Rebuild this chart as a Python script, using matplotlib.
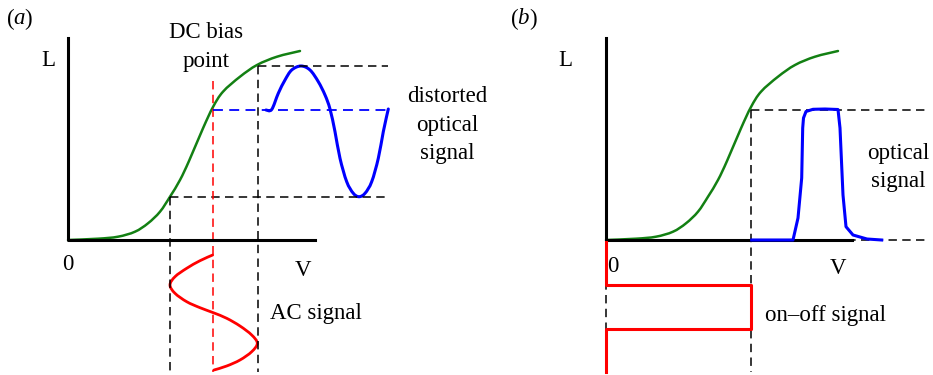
import numpy as np
import matplotlib.pyplot as plt
from matplotlib.path import Path
from matplotlib.patches import PathPatch

plt.rcParams.update({
    "font.family": "serif",
    "font.serif": ["Liberation Serif", "DejaVu Serif"],
    "font.size": 16.5,
})

# everything in pixel units (x right, y down)
# L-V transfer curve, x measured from the origin of each panel
curve_dx = [0, 30, 50, 67, 80, 92, 102, 112, 121, 135, 145, 155, 172, 189, 209, 232]
curve_y = [240, 238.7, 236.7, 231.7, 223.3, 211.7, 196.7, 180, 161, 128.3, 107, 91.7,
           76.7, 65, 56.7, 51]

# panel (a): AC signal (red) and distorted optical output (blue)
ac_x = [212.7, 200, 186.7, 175, 170, 175, 186.7, 200, 213.3, 226.7, 240, 251.7, 257.3,
        251.7, 240, 226.7, 214]
ac_y = [255, 260.7, 268.3, 276.7, 285, 293.3, 301.7, 307.7, 312.7, 318.3, 326, 335,
        343.3, 351.7, 360, 366, 370]
dist_x = [266, 271.7, 278.3, 285, 291.7, 301, 310, 318.3, 325, 330, 335, 340, 346.7,
          353.3, 359, 365, 371.7, 378.3, 383.3, 388.3]
dist_y = [110, 109.5, 93.3, 80, 70, 66, 70, 81.7, 95, 109, 131.7, 158.3, 181.7,
          193.3, 196.7, 193.3, 181.7, 158.3, 131.7, 109]

# panel (b): on-off drive (red) and optical pulse (blue)
onoff_x = [606, 606, 751, 751, 606, 606]
onoff_y = [242, 285, 285, 329, 329, 372]
pulse_x = [751.7, 793, 798, 801.7, 802.7, 803.5, 806, 813, 825, 838, 840, 843, 846,
           853, 867, 881.7]
pulse_y = [240, 240, 218, 178, 128, 118, 111.5, 109.3, 109, 109.5, 128, 195, 226.7,
           235, 239, 240]

origin_a, origin_b = 68, 606
axis_y, axis_top = 240, 38

GREEN = "#138013"
BLUE = "#0000ff"
RED = "#ff0000"


def smooth(ax, xs, ys, **kw):
    # Catmull-Rom through the points, drawn as cubic Bezier segments
    p = np.column_stack([xs, ys]).astype(float)
    ext = np.vstack([p[0], p, p[-1]])
    verts, codes = [p[0]], [Path.MOVETO]
    for i in range(1, len(ext) - 2):
        p0, p1, p2, p3 = ext[i - 1], ext[i], ext[i + 1], ext[i + 2]
        verts += [p1 + (p2 - p0) / 6, p2 - (p3 - p1) / 6, p2]
        codes += [Path.CURVE4] * 3
    ax.add_patch(PathPatch(Path(verts, codes), fill=False, capstyle="round",
                           joinstyle="round", **kw))


def dash(ax, xs, ys, color="black", lw=1.1):
    ax.plot(xs, ys, color=color, lw=lw, dashes=(5.5, 3.5))


fig = plt.figure(figsize=(9.33, 3.75), dpi=100)
ax = fig.add_axes([0, 0, 1, 1])
ax.set_xlim(0, 933)
ax.set_ylim(375, 0)
ax.axis("off")

# ---- panel (a)
dash(ax, [170, 388], [197, 197])
dash(ax, [258, 388], [65.5, 65.5])
dash(ax, [170, 170], [197, 372])
dash(ax, [257.5, 257.5], [65.5, 372])
dash(ax, [213, 213], [81, 372], color=RED)
dash(ax, [213, 388], [110, 110], color=BLUE, lw=1.3)
ax.plot([origin_a, origin_a, 315], [axis_top, axis_y, axis_y], color="black", lw=2.2)
smooth(ax, [origin_a + d for d in curve_dx], curve_y, color=GREEN, lw=1.8)
smooth(ax, dist_x, dist_y, color=BLUE, lw=2.2)
smooth(ax, ac_x, ac_y, color=RED, lw=2.0)

ax.text(7, 19, "(", ha="left", va="center")
ax.text(13, 19, "a", ha="left", va="center", style="italic")
ax.text(24, 19, ")", ha="left", va="center")
ax.text(206, 33, "DC bias", ha="center", va="center")
ax.text(206, 62, "point", ha="center", va="center")
ax.text(48, 60, "L", ha="center", va="center")
ax.text(68, 265, "0", ha="center", va="center")
ax.text(303, 271, "V", ha="center", va="center")
for txt, yy in zip(["distorted", "optical", "signal"], [97, 125, 153]):
    ax.text(447, yy, txt, ha="center", va="center")
ax.text(270, 313, "AC signal", ha="left", va="center")

# ---- panel (b)
dash(ax, [751, 925], [110, 110])
dash(ax, [751, 925], [240, 240])
dash(ax, [751, 751], [110, 372])
dash(ax, [606, 606], [240, 372])
ax.plot([origin_b, origin_b, 852], [axis_top, axis_y, axis_y], color="black", lw=2.2)
smooth(ax, [origin_b + d for d in curve_dx], curve_y, color=GREEN, lw=1.8)
ax.plot(pulse_x, pulse_y, color=BLUE, lw=2.2, solid_joinstyle="round")
ax.plot(onoff_x, onoff_y, color=RED, lw=2.2)

ax.text(511, 19, "(", ha="left", va="center")
ax.text(517, 19, "b", ha="left", va="center", style="italic")
ax.text(529, 19, ")", ha="left", va="center")
ax.text(565, 60, "L", ha="center", va="center")
ax.text(613, 267, "0", ha="center", va="center")
ax.text(838, 268, "V", ha="center", va="center")
ax.text(898, 153, "optical", ha="center", va="center")
ax.text(898, 182, "signal", ha="center", va="center")
ax.text(765, 316, "on\u2013off signal", ha="left", va="center")

fig.savefig("out.png", dpi=100)
